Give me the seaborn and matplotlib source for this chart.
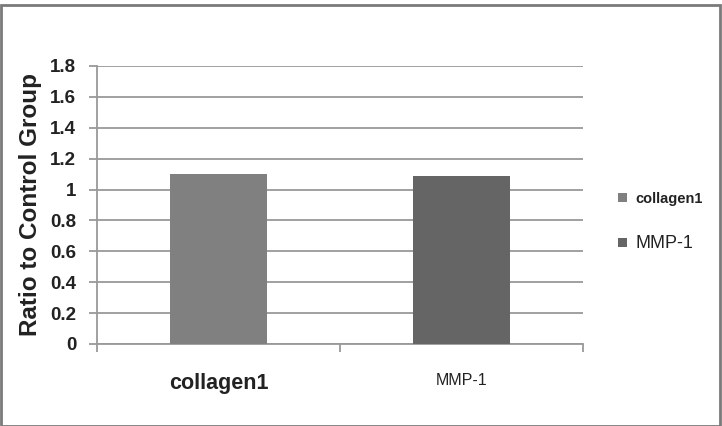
import matplotlib
matplotlib.use("Agg")
import matplotlib.pyplot as plt
import seaborn as sns
import pandas as pd
from matplotlib.patches import Rectangle

categories = ["collagen1", "MMP-1"]
values = [1.10, 1.09]
colors = ["#808080", "#656565"]
yticks = [0, 0.2, 0.4, 0.6, 0.8, 1, 1.2, 1.4, 1.6, 1.8]
ytick_labels = ["0", "0.2", "0.4", "0.6", "0.8", "1", "1.2", "1.4", "1.6", "1.8"]

sns.set_style("white")
plt.rcParams['font.family'] = ['Liberation Sans', 'DejaVu Sans']

df = pd.DataFrame({"category": categories, "value": values})

fig = plt.figure(figsize=(7.22, 4.26), dpi=100)
ax = fig.add_axes([97/722, 82/426, (583-97)/722, (344-66)/426])

sns.barplot(data=df, x="category", y="value", hue="category",
            palette=colors, width=0.40, dodge=False, legend=False, ax=ax,
            saturation=1, zorder=3, linewidth=0)

ax.set_ylim(0, 1.8)
ax.set_xlim(-0.5, 1.5)
ax.set_yticks(yticks)
ax.set_yticklabels(ytick_labels, fontsize=13.5, fontweight="bold", color="#222222")
ax.yaxis.grid(True, color="#999999", linewidth=1.3, zorder=0)
ax.set_axisbelow(True)
for s in ["top", "right"]:
    ax.spines[s].set_visible(False)
for s in ["left", "bottom"]:
    ax.spines[s].set_color("#999999")
    ax.spines[s].set_linewidth(1.3)
ax.tick_params(axis="y", which="major", length=6, width=1.3, color="#999999", pad=9, left=True)

ax.set_xticks([0, 1])
ax.set_xticks([-0.5, 0.5, 1.5], minor=True)
ax.tick_params(axis="x", which="major", length=0, pad=21)
ax.tick_params(axis="x", which="minor", length=6, width=1.3, color="#999999", bottom=True)
ax.set_xticklabels(categories)
xl = ax.get_xticklabels()
xl[0].set_fontsize(15.5)
xl[0].set_fontweight("bold")
xl[1].set_fontsize(11.5)
for t in xl:
    t.set_color("#222222")

ax.set_xlabel("")
ax.set_ylabel("Ratio to Control Group", fontsize=17.5, fontweight="bold", color="#222222", labelpad=6)

handles = [Rectangle((0, 0), 1, 1, facecolor=c, edgecolor="none") for c in colors]
leg = fig.legend(handles, categories, loc="upper left", bbox_to_anchor=(604/722, 1 - 178/426),
                 frameon=False, handlelength=0.6, handleheight=0.6,
                 handletextpad=0.55, labelspacing=1.9, prop={"size": 11})
lt = leg.get_texts()
lt[0].set_fontweight("bold")
lt[0].set_fontsize(10.5)
lt[1].set_fontsize(13)
for t in lt:
    t.set_color("#222222")

# outer border
fig.patches.append(Rectangle((1/722, 0), 719/722, 1 - 5/426, transform=fig.transFigure,
                             fill=False, edgecolor="#7a7a7a", linewidth=2))

fig.savefig("out.png", dpi=100)
